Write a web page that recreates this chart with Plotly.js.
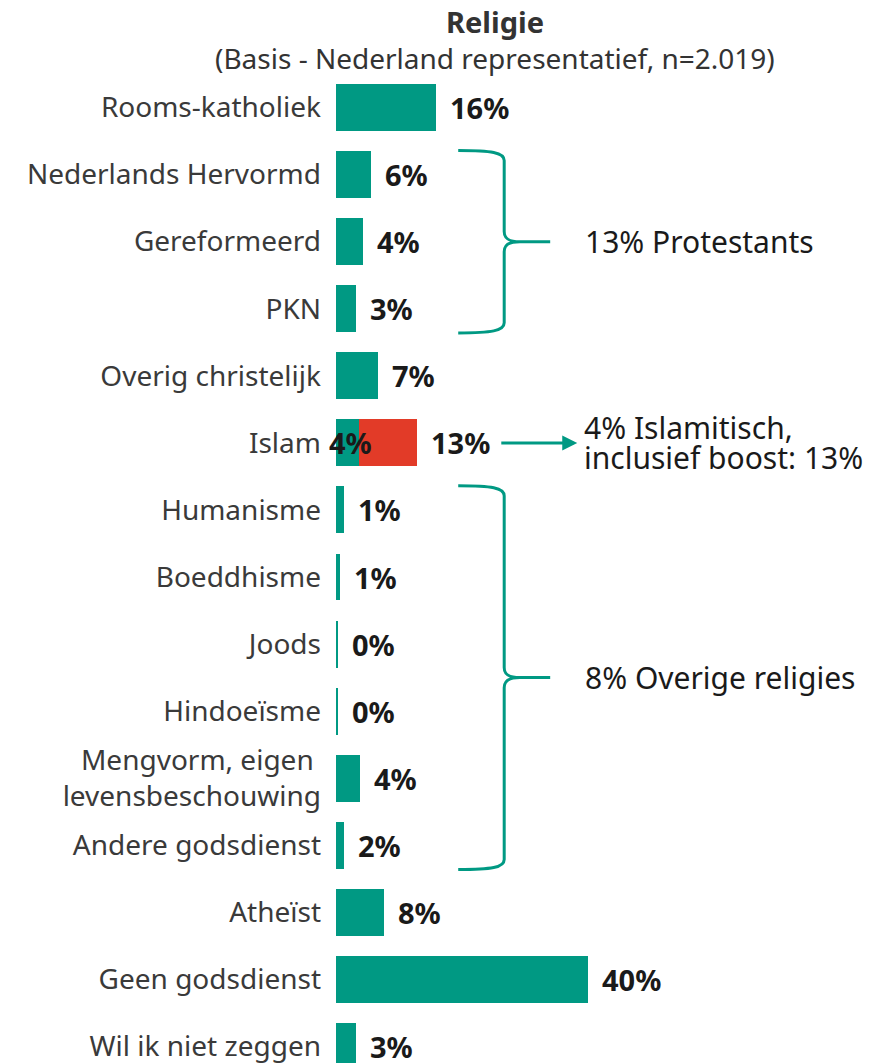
<!DOCTYPE html>
<html>
<head>
<meta charset="utf-8">
<script src="https://cdn.plot.ly/plotly-3.0.1.min.js"></script>
<style>html,body{margin:0;padding:0;background:#fff;}#chart{width:874px;height:1063px;}</style>
</head>
<body>
<div id="chart"></div>
<script>
// ---- data ----
const categories = ['Rooms-katholiek','Nederlands Hervormd','Gereformeerd','PKN','Overig christelijk','Islam','Humanisme','Boeddhisme','Joods','Hindoeïsme','Mengvorm, eigen <br>levensbeschouwing','Andere godsdienst','Atheïst','Geen godsdienst','Wil ik niet zeggen'];
const baseValues = [15.9, 5.5, 4.3, 3.2, 6.7, 3.6, 1.3, 0.6, 0.3, 0.3, 3.8, 1.3, 7.6, 40.0, 3.2];
const boostValues = [null, null, null, null, null, 9.3, null, null, null, null, null, null, null, null, null];
const totalLabels = ['16%','6%','4%','3%','7%','13%','1%','1%','0%','0%','4%','2%','8%','40%','3%'];
const islamBaseLabel = '4%';
const groups = [
  {from: 1, to: 3, text: '13% Protestants'},
  {from: 6, to: 11, text: '8% Overige religies'}
];
const islamNoteLines = ['4% Islamitisch,', 'inclusief boost: 13%'];
const titleText = '<b>Religie</b>';
const subtitleText = '(Basis - Nederland representatief, n=2.019)';

// ---- styling ----
const TEAL = '#009983';
const RED = '#E23B28';
const FONT = 'Noto Sans, Open Sans, sans-serif';
const idx = categories.map((_, i) => i);

const traces = [
  {type: 'bar', orientation: 'h', y: idx, x: baseValues, marker: {color: TEAL}, hoverinfo: 'skip'},
  {type: 'bar', orientation: 'h', y: idx, x: boostValues, marker: {color: RED}, hoverinfo: 'skip'}
];

const totals = baseValues.map((v, i) => v + (boostValues[i] || 0));
const annotations = [];
const valFont = {family: FONT, size: 29, color: '#1a1a1a'};
totals.forEach((t, i) => {
  annotations.push({x: t, y: i, xref: 'x', yref: 'y', text: '<b>' + totalLabels[i] + '</b>', showarrow: false,
    xanchor: 'left', yanchor: 'middle', xshift: 12, font: valFont});
});
const islamIdx = categories.indexOf('Islam');
annotations.push({x: baseValues[islamIdx] / 2, y: islamIdx, xref: 'x', yref: 'y', text: '<b>' + islamBaseLabel + '</b>',
  showarrow: false, xanchor: 'center', yanchor: 'middle', xshift: 3, font: valFont});
// arrow
annotations.push({x: 38.3, y: islamIdx, xref: 'x', yref: 'y', ax: 26.0, ay: islamIdx, axref: 'x', ayref: 'y', text: '',
  showarrow: true, arrowhead: 2, arrowsize: 1, arrowwidth: 3, arrowcolor: TEAL, standoff: 0});
const noteFont = {family: FONT, size: 30, color: '#1a1a1a'};
islamNoteLines.forEach((line, k) => {
  annotations.push({x: 39.2, y: islamIdx, xref: 'x', yref: 'y', text: line, showarrow: false, xanchor: 'left', align: 'left',
    yanchor: 'middle', yshift: k === 0 ? 15 : -15, font: noteFont, borderpad: 0});
});

const shapes = [];
const XA = 19.4, XV = 26.7, XT = 34.0;
const DY = 0.15, DX = 2.5;
groups.forEach(g => {
  const top = g.from - 0.36, bot = g.to + 0.36, mid = (g.from + g.to) / 2;
  const p = 'M ' + XA + ',' + top + ' C ' + (XV - 2) + ',' + top + ' ' + XV + ',' + (top + 0.03) + ' ' + XV + ',' + (top + DY) +
    ' L ' + XV + ',' + (mid - DY) + ' C ' + XV + ',' + (mid - 0.04) + ' ' + (XV + 0.8) + ',' + mid + ' ' + (XV + DX) + ',' + mid +
    ' L ' + XT + ',' + mid +
    ' M ' + (XV + DX) + ',' + mid + ' C ' + (XV + 0.8) + ',' + mid + ' ' + XV + ',' + (mid + 0.04) + ' ' + XV + ',' + (mid + DY) +
    ' L ' + XV + ',' + (bot - DY) + ' C ' + XV + ',' + (bot - 0.03) + ' ' + (XV - 2) + ',' + bot + ' ' + XA + ',' + bot;
  shapes.push({type: 'path', xref: 'x', yref: 'y', path: p, line: {color: TEAL, width: 3}});
  annotations.push({x: 39.2, y: mid, xref: 'x', yref: 'y', text: g.text, showarrow: false, xanchor: 'left', yanchor: 'middle',
    font: noteFont});
});

const plotW = 874 - 336, plotH = 1063 - 74;
annotations.push({xref: 'paper', yref: 'paper', x: (495 - 336) / plotW, y: 1 + (74 - 22) / plotH, text: titleText,
  showarrow: false, xanchor: 'center', yanchor: 'middle', font: {family: FONT, size: 29, color: '#333'}});
annotations.push({xref: 'paper', yref: 'paper', x: (495 - 336) / plotW, y: 1 + (74 - 58) / plotH, text: subtitleText,
  showarrow: false, xanchor: 'center', yanchor: 'middle', font: {family: FONT, size: 28, color: '#333'}});

const layout = {
  width: 874, height: 1063,
  margin: {l: 336, r: 0, t: 74, b: 0},
  paper_bgcolor: '#fff', plot_bgcolor: '#fff',
  barmode: 'stack', bargap: 0.3, showlegend: false,
  xaxis: {range: [0, 85.4], visible: false, fixedrange: true},
  yaxis: {range: [14.246, -0.5], tickmode: 'array', tickvals: idx, ticktext: categories, showgrid: false, zeroline: false,
    showline: false, ticks: '', ticklabelstandoff: 14, ticklabeloverflow: 'allow',
    tickfont: {family: FONT, size: 28, color: '#3a3a3a'}},
  annotations: annotations,
  shapes: shapes
};

Plotly.newPlot('chart', traces, layout, {displayModeBar: false, staticPlot: true});
</script>
</body>
</html>
